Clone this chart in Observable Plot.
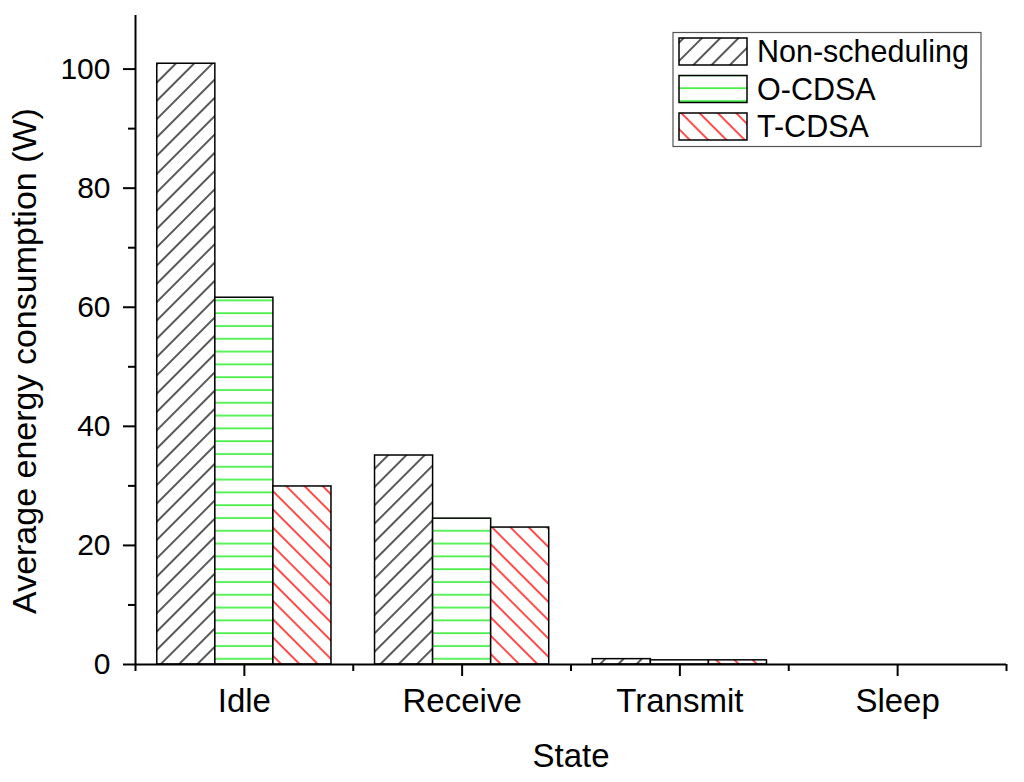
<!DOCTYPE html>
<html>
<head>
<meta charset="utf-8">
<script src="https://cdn.jsdelivr.net/npm/d3@7"></script>
<script src="https://cdn.jsdelivr.net/npm/@observablehq/plot@0.6"></script>
<style>
  html, body { margin: 0; padding: 0; background: white; }
  #wrap { position: relative; width: 1024px; height: 782px; }
  #legend { position: absolute; }
</style>
</head>
<body>
<div id="wrap"></div>
<script>
const states = ["Idle", "Receive", "Transmit", "Sleep"];
const seriesNames = ["Non-scheduling", "O-CDSA", "T-CDSA"];
const nonScheduling = [100.9, 35.1, 0.9, 0];
const oCDSA = [61.6, 24.5, 0.7, 0];
const tCDSA = [29.9, 23.0, 0.7, 0];
const yMajorTicks = [0, 20, 40, 60, 80, 100];
const yMinorTicks = [10, 30, 50, 70, 90];
const yDomain = [0, 109];
const yLabel = "Average energy consumption (W)";
const xLabel = "State";

const FONT = '"Liberation Sans", Arial, "DejaVu Sans", sans-serif';
const seriesValues = [nonScheduling, oCDSA, tCDSA];
const patternIds = ["pNS", "pO", "pT"];
const groupWidth = 0.8;
const barW = groupWidth / seriesNames.length;

// pattern definitions (document-wide)
const defsSvg = d3.select("#wrap").append("svg")
  .attr("width", 0).attr("height", 0)
  .style("position", "absolute").style("left", 0).style("top", 0);
const defs = defsSvg.append("defs");
function hatch(id, angle, color, width) {
  const p = defs.append("pattern").attr("id", id)
    .attr("patternUnits", "userSpaceOnUse")
    .attr("width", 12.94).attr("height", 12.94)
    .attr("patternTransform", `rotate(${angle})`);
  p.append("rect").attr("width", 12.94).attr("height", 12.94).attr("fill", "white");
  p.append("line").attr("x1", 1).attr("y1", -1).attr("x2", 1).attr("y2", 14)
    .attr("stroke", color).attr("stroke-width", width);
}
hatch("pNS", 45, "#000", 1.3);
hatch("pT", -45, "#ff0000", 1.4);
{
  const p = defs.append("pattern").attr("id", "pO")
    .attr("patternUnits", "userSpaceOnUse")
    .attr("width", 20).attr("height", 12.8);
  p.append("rect").attr("width", 20).attr("height", 12.8).attr("fill", "white");
  p.append("line").attr("x1", 0).attr("y1", 6).attr("x2", 20).attr("y2", 6)
    .attr("stroke", "#33ee33").attr("stroke-width", 1.6);
}

const rows = [];
seriesNames.forEach((s, j) => {
  states.forEach((st, i) => {
    rows.push({state: st, series: s, value: seriesValues[j][i], i, j,
      x1: i - groupWidth / 2 + j * barW, x2: i - groupWidth / 2 + (j + 1) * barW});
  });
});

const xMajor = states.map((_, i) => i);
const xMinor = d3.range(states.length + 1).map(k => k - 0.5);

const plot = Plot.plot({
  width: 1024,
  height: 782,
  marginLeft: 135,
  marginRight: 18,
  marginTop: 15,
  marginBottom: 118,
  style: {fontFamily: FONT, color: "black", background: "white", overflow: "visible"},
  x: {type: "linear", domain: [-0.5, states.length - 0.5], label: null},
  y: {domain: yDomain, label: null},
  marks: [
    ...seriesNames.map((s, j) => Plot.rectY(rows.filter(r => r.j === j), {
      x1: "x1", x2: "x2", y1: () => 0, y2: "value",
      fill: `url(#${patternIds[j]})`, stroke: "black", strokeWidth: 1.5
    })),
    Plot.ruleX([-0.5], {stroke: "black", strokeWidth: 2}),
    Plot.ruleY([0], {stroke: "black", strokeWidth: 2}),
    Plot.axisY(yMajorTicks, {tickSize: 12, tickPadding: 13, fontSize: 30, label: null, strokeWidth: 2}),
    Plot.axisY(yMinorTicks, {tickSize: 7, tickFormat: () => "", label: null, strokeWidth: 2}),
    Plot.axisX(xMajor, {tickSize: 12, tickPadding: 12, fontSize: 33, tickFormat: i => states[i], label: null, strokeWidth: 2}),
    Plot.axisX(xMinor, {tickSize: 7, tickFormat: () => "", label: null, strokeWidth: 2}),
    Plot.text([yLabel], {frameAnchor: "left", textAnchor: "middle", rotate: -90, dx: -110, dy: 21, fontSize: 34, fill: "black"}),
    Plot.text([xLabel], {frameAnchor: "bottom", dy: 102, fontSize: 33, fill: "black"})
  ]
});
document.getElementById("wrap").appendChild(plot);

// legend overlay inside plot area (top-right)
const lg = d3.select("#wrap").append("svg").attr("id", "legend")
  .attr("width", 312).attr("height", 118)
  .style("left", "671px").style("top", "31px");
lg.append("rect").attr("x", 2).attr("y", 1.5).attr("width", 308).attr("height", 114)
  .attr("fill", "white").attr("stroke", "#555").attr("stroke-width", 1.2);
seriesNames.forEach((s, j) => {
  const cy = 20.5 + j * 37.5;
  lg.append("rect").attr("x", 8).attr("y", cy - 13.5).attr("width", 68).attr("height", 27)
    .attr("fill", `url(#${patternIds[j]})`).attr("stroke", "black").attr("stroke-width", 1.5);
  lg.append("text").attr("x", 86).attr("y", cy).attr("dy", "0.35em")
    .attr("font-family", FONT).attr("font-size", 30.5).attr("fill", "black").text(s);
});
</script>
</body>
</html>
